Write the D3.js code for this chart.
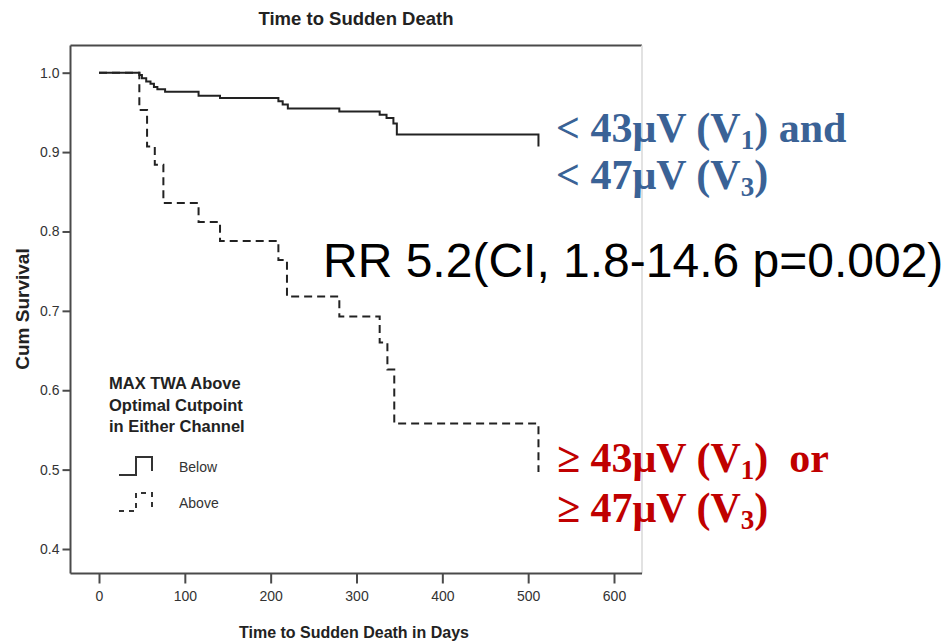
<!DOCTYPE html>
<html>
<head>
<meta charset="utf-8">
<script src="https://cdn.jsdelivr.net/npm/d3@7"></script>
<style>
  html, body { margin: 0; padding: 0; background: #fff; }
  svg { display: block; }
</style>
</head>
<body>
<svg id="chart" width="947" height="642"></svg>
<script>
// Kaplan-Meier survival steps (days, cumulative survival after the event)
const belowTimes  = [0, 47, 50, 55, 60, 64, 68, 77, 116, 141, 209, 214, 220, 280, 327, 335, 343, 347, 512];
const belowValues = [1.0, 0.997, 0.993, 0.989, 0.986, 0.982, 0.979, 0.976, 0.971, 0.968, 0.964, 0.960, 0.955, 0.951, 0.947, 0.943, 0.936, 0.922, 0.907];

const aboveTimes  = [0, 47, 56, 65, 75, 116, 141, 209, 219, 280, 327, 336, 344, 512];
const aboveValues = [1.0, 0.953, 0.907, 0.884, 0.836, 0.812, 0.788, 0.764, 0.718, 0.693, 0.660, 0.626, 0.558, 0.497];

const xTicks = [0, 100, 200, 300, 400, 500, 600];
const yTicks = [0.4, 0.5, 0.6, 0.7, 0.8, 0.9, 1.0];

const legendTitle = ["MAX TWA Above", "Optimal Cutpoint", "in Either Channel"];
const legendLabels = ["Below", "Above"];

const svg = d3.select("#chart");

// plot frame
const frame = { left: 70.5, top: 45.5, right: 642, bottom: 573.5 };

const x = d3.scaleLinear().domain([0, 600]).range([99, 614]);
const y = d3.scaleLinear().domain([0.4, 1.0]).range([549, 72.7]);

const axisColor = "#4a4a4a";
const textColor = "#333";
const sans = "'Liberation Sans', Arial, sans-serif";

// title
svg.append("text")
  .attr("x", 356).attr("y", 25)
  .attr("text-anchor", "middle")
  .style("font-family", sans)
  .style("font-weight", "bold").style("font-size", "18.5px")
  .style("fill", "#222")
  .text("Time to Sudden Death");

// top border and faint right border
svg.append("line")
  .attr("x1", frame.left).attr("x2", frame.right)
  .attr("y1", frame.top).attr("y2", frame.top)
  .style("stroke", axisColor).style("stroke-width", 2);
svg.append("line")
  .attr("x1", frame.right).attr("x2", frame.right)
  .attr("y1", frame.top).attr("y2", frame.bottom)
  .style("stroke", "#e2e2e2").style("stroke-width", 2);

// y axis
const yAxis = svg.append("g")
  .attr("transform", `translate(${frame.left},0)`)
  .call(d3.axisLeft(y).tickValues(yTicks).tickFormat(d3.format(".1f")).tickSize(8).tickPadding(3));
yAxis.select(".domain").attr("d", `M0,${frame.top}V${frame.bottom}`);

// x axis
const xAxis = svg.append("g")
  .attr("transform", `translate(0,${frame.bottom})`)
  .call(d3.axisBottom(x).tickValues(xTicks).tickFormat(d3.format("d")).tickSize(10).tickPadding(8));
xAxis.select(".domain").attr("d", `M${frame.left},0H${frame.right}`);

svg.selectAll(".domain").style("stroke", axisColor).style("stroke-width", 2);
svg.selectAll(".tick line").style("stroke", axisColor).style("stroke-width", 2);
svg.selectAll(".tick text")
  .style("font-family", sans)
  .style("font-size", "14px").style("fill", textColor);

// axis titles
svg.append("text")
  .attr("x", 354).attr("y", 638)
  .attr("text-anchor", "middle")
  .style("font-family", sans)
  .style("font-weight", "bold").style("font-size", "16px")
  .style("fill", "#222")
  .text("Time to Sudden Death in Days");

svg.append("text")
  .attr("transform", "translate(29,309) rotate(-90)")
  .attr("text-anchor", "middle")
  .style("font-family", sans)
  .style("font-weight", "bold").style("font-size", "19px")
  .style("fill", "#222")
  .text("Cum Survival");

// survival curves
const step = d3.line()
  .x(d => x(d[0]))
  .y(d => y(d[1]))
  .curve(d3.curveStepAfter);

const curveColor = "#222";
svg.append("path")
  .datum(d3.zip(belowTimes, belowValues))
  .attr("d", step)
  .style("fill", "none").style("stroke", curveColor).style("stroke-width", 2);

svg.append("path")
  .datum(d3.zip(aboveTimes, aboveValues))
  .attr("d", step)
  .style("fill", "none").style("stroke", curveColor).style("stroke-width", 2)
  .style("stroke-dasharray", "8,5");

// legend
const legend = svg.append("g").attr("transform", "translate(109,0)");
legend.selectAll("text.lt")
  .data(legendTitle)
  .join("text")
  .attr("class", "lt")
  .attr("x", 0).attr("y", (d, i) => 389 + i * 21.5)
  .style("font-family", sans)
  .style("font-weight", "bold").style("font-size", "16.5px")
  .style("fill", "#222")
  .text(d => d);

const glyph = d3.line();
const legendRows = [
  { label: legendLabels[0], y: 475, dash: null },
  { label: legendLabels[1], y: 511, dash: "5,5" }
];
legendRows.forEach(r => {
  legend.append("path")
    .attr("d", glyph([[10, r.y], [27, r.y], [27, r.y - 18], [43, r.y - 18], [43, r.y - 4]]))
    .style("fill", "none").style("stroke", "#333").style("stroke-width", 2)
    .style("stroke-dasharray", r.dash);
  legend.append("text")
    .attr("x", 70).attr("y", r.y - 3)
    .style("font-family", sans)
    .style("font-size", "14px").style("fill", textColor)
    .text(r.label);
});

// annotations
const serif = "'Liberation Serif', 'Times New Roman', serif";
function annot(lines, color, startX) {
  lines.forEach(l => {
    const t = svg.append("text")
      .attr("x", startX).attr("y", l.y)
      .style("font-family", serif).style("font-weight", "bold")
      .style("font-size", "42px").style("fill", color)
      .attr("xml:space", "preserve");
    l.parts.forEach(p => {
      const ts = t.append("tspan").text(p.t);
      if (p.sub) ts.attr("baseline-shift", "-25%").style("font-size", "27px");
    });
  });
}

annot([
  { y: 142, parts: [{ t: "< 43μV (V" }, { t: "1", sub: true }, { t: ") and" }] },
  { y: 189, parts: [{ t: "< 47μV (V" }, { t: "3", sub: true }, { t: ")" }] }
], "#3a6296", 556);

annot([
  { y: 472, parts: [{ t: "≥ 43μV (V" }, { t: "1", sub: true }, { t: ")  or" }] },
  { y: 522, parts: [{ t: "≥ 47μV (V" }, { t: "3", sub: true }, { t: ")" }] }
], "#c00000", 557);

svg.append("text")
  .attr("x", 323).attr("y", 277)
  .style("font-family", sans)
  .style("font-size", "48px").style("fill", "#000")
  .text("RR 5.2(CI, 1.8-14.6 p=0.002)");
</script>
</body>
</html>
